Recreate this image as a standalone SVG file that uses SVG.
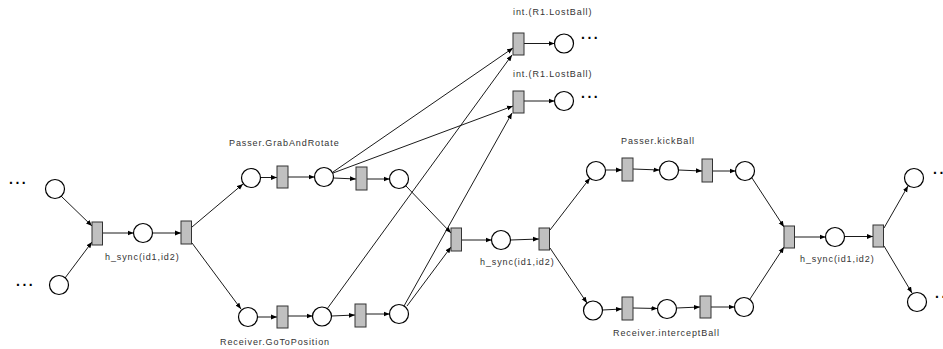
<svg xmlns="http://www.w3.org/2000/svg" width="943" height="349" viewBox="0 0 943 349">
<style>
.p{fill:#fff;stroke:#000;stroke-width:1.2}
.t{fill:#c0c0c0;stroke:#333;stroke-width:1}
.e{stroke:#000;stroke-width:0.9;fill:none;marker-end:url(#a)}
.l{font-family:"Liberation Sans",Arial,sans-serif;font-size:9px;letter-spacing:0.9px;fill:#333}
.d{font-family:"Liberation Sans",Arial,sans-serif;font-size:14px;font-weight:bold;letter-spacing:2.5px;fill:#000}
</style>
<defs>
<marker id="a" markerUnits="userSpaceOnUse" markerWidth="6" markerHeight="6" refX="6" refY="3" orient="auto">
<path d="M0,0.6 L6,3 L0,5.4 z" fill="#000"/>
</marker>
</defs>
<g id="connectors">
<line class="e" x1="61" y1="196" x2="92" y2="226"/>
<line class="e" x1="65" y1="278" x2="92" y2="242"/>
<line class="e" x1="103" y1="233" x2="133.5" y2="233"/>
<line class="e" x1="152.5" y1="233" x2="181" y2="233"/>
<line class="e" x1="192" y1="227" x2="243" y2="184"/>
<line class="e" x1="192" y1="243" x2="241" y2="309"/>
<line class="e" x1="260.5" y1="177.5" x2="277" y2="177.5"/>
<line class="e" x1="288" y1="177" x2="314.5" y2="177"/>
<line class="e" x1="333.5" y1="178" x2="356" y2="179"/>
<line class="e" x1="367" y1="179" x2="389.5" y2="179"/>
<line class="e" x1="333" y1="172" x2="513" y2="48"/>
<line class="e" x1="333" y1="173" x2="513" y2="106"/>
<line class="e" x1="257.5" y1="317" x2="277" y2="317"/>
<line class="e" x1="288" y1="316" x2="312.5" y2="316"/>
<line class="e" x1="331.5" y1="316" x2="355" y2="315"/>
<line class="e" x1="366" y1="314" x2="389.5" y2="314"/>
<line class="e" x1="327" y1="309" x2="512" y2="55"/>
<line class="e" x1="404" y1="306" x2="512" y2="113"/>
<line class="e" x1="407" y1="306" x2="451" y2="247"/>
<line class="e" x1="406" y1="186" x2="451" y2="233"/>
<line class="e" x1="462" y1="240" x2="491.5" y2="240"/>
<line class="e" x1="510.5" y1="240" x2="539" y2="239"/>
<line class="e" x1="550" y1="230" x2="590" y2="178"/>
<line class="e" x1="550" y1="248" x2="587" y2="303"/>
<line class="e" x1="605.5" y1="170" x2="622" y2="170"/>
<line class="e" x1="633" y1="169" x2="659.5" y2="170"/>
<line class="e" x1="678.5" y1="170" x2="702" y2="171"/>
<line class="e" x1="713" y1="171" x2="735.5" y2="171"/>
<line class="e" x1="752" y1="178" x2="784" y2="227"/>
<line class="e" x1="750" y1="299" x2="784" y2="247"/>
<line class="e" x1="795" y1="237" x2="825.5" y2="237"/>
<line class="e" x1="844.5" y1="236.5" x2="873" y2="236.5"/>
<line class="e" x1="884" y1="228" x2="908" y2="186"/>
<line class="e" x1="884" y1="246" x2="912" y2="293"/>
<line class="e" x1="602.5" y1="310" x2="622" y2="309"/>
<line class="e" x1="633" y1="308" x2="657.5" y2="308.5"/>
<line class="e" x1="676.5" y1="308" x2="700" y2="307"/>
<line class="e" x1="711" y1="307" x2="734.5" y2="307"/>
<line class="e" x1="524" y1="43.5" x2="554.5" y2="43.5"/>
<line class="e" x1="524" y1="101" x2="554.5" y2="101"/>
</g>
<g id="T1"><rect class="t" x="92" y="222" width="10.5" height="23"/></g>
<g id="T2"><rect class="t" x="181" y="221" width="10.5" height="23"/></g>
<g id="Pa1"><rect class="t" x="277" y="166" width="11" height="22"/></g>
<g id="Pa2"><rect class="t" x="356" y="167" width="11" height="23"/></g>
<g id="Rc1"><rect class="t" x="277" y="306" width="11" height="22"/></g>
<g id="Rc2"><rect class="t" x="355" y="304" width="11" height="23"/></g>
<g id="Ttop"><rect class="t" x="513" y="33" width="11" height="22"/></g>
<g id="Tsecond"><rect class="t" x="513" y="91" width="11" height="22"/></g>
<g id="M1"><rect class="t" x="451" y="228" width="10.5" height="23"/></g>
<g id="M2"><rect class="t" x="539" y="228" width="10.5" height="22"/></g>
<g id="K1"><rect class="t" x="622" y="158" width="11" height="23"/></g>
<g id="K2"><rect class="t" x="702" y="159" width="10.5" height="23"/></g>
<g id="I1"><rect class="t" x="622" y="297" width="11" height="23"/></g>
<g id="I2"><rect class="t" x="700" y="296" width="11" height="22"/></g>
<g id="R1"><rect class="t" x="784" y="226" width="10.5" height="22"/></g>
<g id="R2"><rect class="t" x="873" y="225" width="10.5" height="22"/></g>
<g id="cL1"><circle class="p" cx="55" cy="189" r="9.5"/></g>
<g id="cL2"><circle class="p" cx="59" cy="285" r="9.5"/></g>
<g id="cS1"><circle class="p" cx="143" cy="233" r="9.5"/></g>
<g id="cP1"><circle class="p" cx="251" cy="178" r="9.5"/></g>
<g id="cP2"><circle class="p" cx="324" cy="177" r="9.5"/></g>
<g id="cP3"><circle class="p" cx="399" cy="179" r="9.5"/></g>
<g id="cG1"><circle class="p" cx="248" cy="317" r="9.5"/></g>
<g id="cG2"><circle class="p" cx="322" cy="316.5" r="9.5"/></g>
<g id="cG3"><circle class="p" cx="399" cy="314" r="9.5"/></g>
<g id="cTop"><circle class="p" cx="564" cy="43.5" r="9.5"/></g>
<g id="cSecond"><circle class="p" cx="564" cy="101" r="9.5"/></g>
<g id="cM"><circle class="p" cx="501" cy="240" r="9.5"/></g>
<g id="cK1"><circle class="p" cx="596" cy="171" r="9.5"/></g>
<g id="cK2"><circle class="p" cx="669" cy="170.5" r="9.5"/></g>
<g id="cK3"><circle class="p" cx="745" cy="171" r="9.5"/></g>
<g id="cI1"><circle class="p" cx="593" cy="310.5" r="9.5"/></g>
<g id="cI2"><circle class="p" cx="667" cy="309" r="9.5"/></g>
<g id="cI3"><circle class="p" cx="744" cy="307" r="9.5"/></g>
<g id="cS3"><circle class="p" cx="835" cy="237" r="9.5"/></g>
<g id="cO1"><circle class="p" cx="914" cy="178" r="9.5"/></g>
<g id="cO2"><circle class="p" cx="917" cy="302" r="9.5"/></g>
<g id="labels">
<text class="l" x="105" y="260">h_sync(id1,id2)</text>
<text class="l" x="480" y="265">h_sync(id1,id2)</text>
<text class="l" x="800" y="262">h_sync(id1,id2)</text>
<text class="l" x="229" y="146">Passer.GrabAndRotate</text>
<text class="l" x="220" y="345">Receiver.GoToPosition</text>
<text class="l" x="513" y="15">int.(R1.LostBall)</text>
<text class="l" x="513" y="77">int.(R1.LostBall)</text>
<text class="l" x="621" y="144">Passer.kickBall</text>
<text class="l" x="613" y="336">Receiver.interceptBall</text>
<text class="d" x="9" y="184">...</text>
<text class="d" x="16" y="286">...</text>
<text class="d" x="581" y="39">...</text>
<text class="d" x="581" y="98">...</text>
<text class="d" x="933" y="174">...</text>
<text class="d" x="935" y="298">...</text>
</g>
</svg>
